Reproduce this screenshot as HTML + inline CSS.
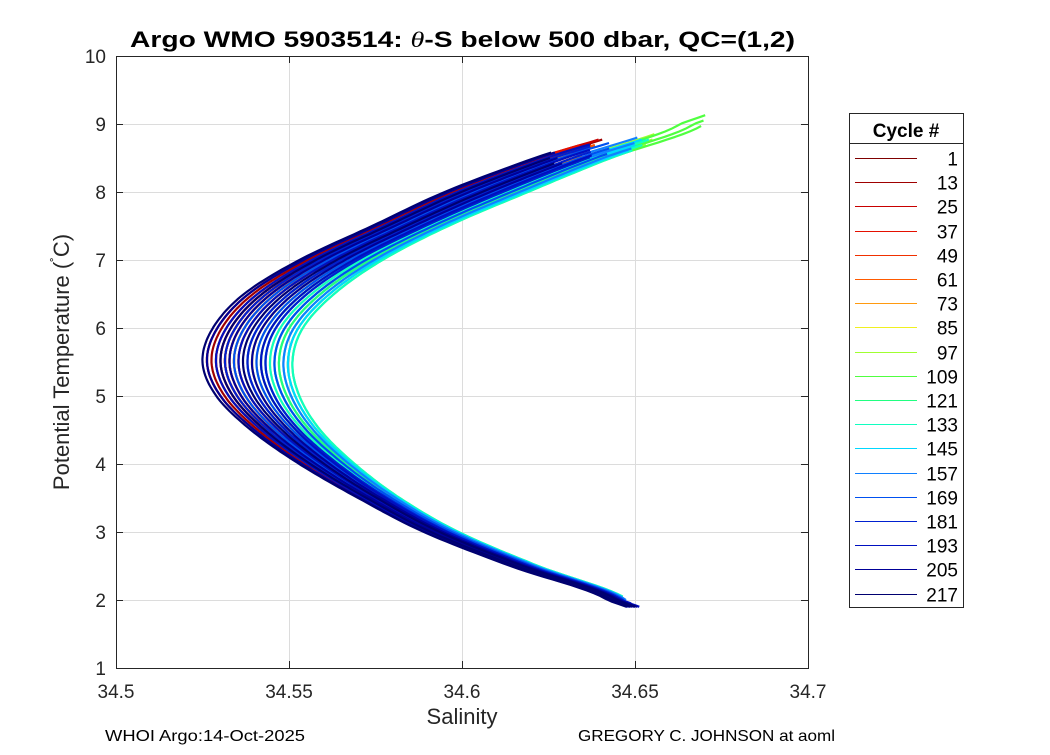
<!DOCTYPE html>
<html><head><meta charset="utf-8">
<style>
html,body{margin:0;padding:0;background:#fff;}
svg text{font-family:"Liberation Sans","DejaVu Sans",sans-serif;}
</style></head>
<body>
<svg id="chart" width="1050" height="750" viewBox="0 0 1050 750" xmlns="http://www.w3.org/2000/svg">
<rect width="1050" height="750" fill="#fff"/>
<text x="130" y="47" font-size="22" font-weight="bold" fill="#000" textLength="665" lengthAdjust="spacingAndGlyphs">Argo WMO 5903514: <tspan font-family="Liberation Serif" font-style="italic" font-weight="normal">θ</tspan>-S below 500 dbar,  QC=(1,2)</text>
<g id="grid"></g>
<g id="lines"></g>
<rect x="116.5" y="56.5" width="692" height="612" fill="none" stroke="#262626" stroke-width="1"/>
<g id="ticks"></g>
<text x="462" y="724" text-anchor="middle" font-size="22" fill="#262626">Salinity</text>
<text transform="translate(69,362) rotate(-90)" text-anchor="middle" font-size="22" fill="#262626">Potential Temperature (<tspan font-size="14" dy="-8">˚</tspan><tspan dy="8">C)</tspan></text>
<g id="legend"></g>
<text x="105" y="741" font-size="16" fill="#000" textLength="200" lengthAdjust="spacingAndGlyphs">WHOI Argo:14-Oct-2025</text>
<text x="578" y="741" font-size="16" fill="#000" textLength="257" lengthAdjust="spacingAndGlyphs">GREGORY C. JOHNSON at aoml</text>
</svg>
<script>
const xTicks=[34.5,34.55,34.6,34.65,34.7];
const xTickLabels=["34.5","34.55","34.6","34.65","34.7"];
const yTicks=[1,2,3,4,5,6,7,8,9,10];
const tempLevels=[2.0,2.5,3.0,3.5,4.0,4.5,5.0,5.5,6.0,6.5,7.0,7.5,8.0,8.5,9.0];
const meanSal=[34.645,34.618,34.594,34.576,34.561,34.549,34.541,34.538,34.541,34.550,34.565,34.585,34.607,34.632,34.660];
const spreadSal=[0.003,0.004,0.005,0.006,0.008,0.010,0.012,0.013,0.013,0.013,0.012,0.011,0.012,0.011,0.010];
const cycles=[1,13,25,37,49,61,73,85,97,109,121,133,145,157,169,181,193,205,217];
const colors=["#7f0000","#9f0000","#c80000","#e51000","#f03000","#ff5a00","#ff9a10","#f0f020","#a0ff30","#50ff40","#20ff80","#10ffc0","#00d8ff","#1080ff","#0050f0","#0020d0","#0010c0","#000098","#000070"];
const groupOffsets=[[-0.6,-0.4,-0.2],[-0.8,-0.5,-0.3],[-0.9,-0.6,-0.4],[-0.9,-0.7,-0.5],[-0.7,-0.5,-0.3],[-0.5,-0.2,0.1],[-0.4,0.0,0.3],[-0.3,0.1,0.5],[0.2,0.6,0.9],[0.3,0.7,1.0],[0.4,0.7,0.9],[0.5,0.8,1.0],[0.3,0.6,0.9],[0.0,0.4,0.8],[-0.3,0.2,0.6],[-0.5,0.0,0.4],[-0.7,-0.2,0.3],[-0.9,-0.4,0.1],[-1.0,-0.6,-0.1]];
const groupTopT=[8.6,8.8,8.8,8.7,8.6,8.7,8.6,8.5,8.85,9.15,8.8,8.8,8.8,8.8,8.75,8.7,8.7,8.6,8.6];
const groupBottomT=[2.05,2.05,2.05,2.05,2.05,2.05,2.05,2.05,2.05,2.05,2.05,2.05,2.05,2.0,2.0,1.95,1.9,1.9,1.9];

const NS="http://www.w3.org/2000/svg";
const X0=116,X1=808,Y0=668,Y1=56;
function xs(s){return X0+(s-34.5)/0.2*(X1-X0);}
function ys(t){return Y0-(t-1)/9*(Y0-Y1);}
function mk(tag,attrs,parent){const e=document.createElementNS(NS,tag);for(const k in attrs)e.setAttribute(k,attrs[k]);parent.appendChild(e);return e;}
function interp(arr,t){
  const n=tempLevels.length-1, h=tempLevels[1]-tempLevels[0];
  if(t<=tempLevels[0]) return arr[0]+(t-tempLevels[0])/h*(arr[1]-arr[0]);
  if(t>=tempLevels[n]) return arr[n]+(t-tempLevels[n])/h*(arr[n]-arr[n-1]);
  let i=Math.min(n-1,Math.floor((t-tempLevels[0])/h));
  const u=(t-tempLevels[i])/h;
  const p0=arr[Math.max(0,i-1)],p1=arr[i],p2=arr[i+1],p3=arr[Math.min(n,i+2)];
  const m1=(p2-p0)/2,m2=(p3-p1)/2;
  const u2=u*u,u3=u2*u;
  return (2*u3-3*u2+1)*p1+(u3-2*u2+u)*m1+(-2*u3+3*u2)*p2+(u3-u2)*m2;
}
const grid=document.getElementById('grid'),ticks=document.getElementById('ticks');
xTicks.forEach((v,i)=>{
  const x=Math.round(xs(v))+0.5;
  if(i>0&&i<xTicks.length-1){const g=mk('line',{x1:x,x2:x,y1:Y1,y2:Y0,stroke:'#dcdcdc','stroke-width':1},grid);
  
  }
  const t=mk('text',{x:xs(v),y:Y0+30,'text-anchor':'middle','font-size':19,fill:'#262626'},ticks);t.textContent=xTickLabels[i];
  
  
  mk('line',{x1:x,x2:x,y1:Y0,y2:Y0-7,stroke:'#262626'},ticks);
  mk('line',{x1:x,x2:x,y1:Y1,y2:Y1+7,stroke:'#262626'},ticks);
});
yTicks.forEach(v=>{
  const y=Math.round(ys(v))+0.5;
  if(v>1&&v<10){const g=mk('line',{x1:X0,x2:X1,y1:y,y2:y,stroke:'#dcdcdc','stroke-width':1},grid);
  
  }
  const t=mk('text',{x:X0-10,y:ys(v)+7,'text-anchor':'end','font-size':19,fill:'#262626'},ticks);t.textContent=String(v);
  
  
  mk('line',{x1:X0,x2:X0+7,y1:y,y2:y,stroke:'#262626'},ticks);
  mk('line',{x1:X1,x2:X1-7,y1:y,y2:y,stroke:'#262626'},ticks);
});
const lines=document.getElementById('lines');
cycles.forEach((c,gi)=>{
  groupOffsets[gi].forEach((o,k)=>{
    const top=groupTopT[gi]-k*0.08, bot=groupBottomT[gi];
    let d='';
    for(let t=bot;t<=top+1e-6;t+=0.04){
      const s=interp(meanSal,t)+o*interp(spreadSal,Math.min(t,9));
      d+=(d?'L':'M')+xs(s).toFixed(1)+','+ys(t).toFixed(1);
    }
    const p=mk('path',{d:d,fill:'none',stroke:colors[gi],'stroke-width':2.2,'stroke-linejoin':'round'},lines);
    
    
  });
});
const lg=document.getElementById('legend');
const box=mk('rect',{x:849.5,y:113.5,width:114,height:494,fill:'#fff',stroke:'#262626'},lg);


mk('line',{x1:849.5,x2:963.5,y1:143.5,y2:143.5,stroke:'#262626'},lg);
const lt=mk('text',{x:906,y:137,'text-anchor':'middle','font-size':19,'font-weight':'bold',fill:'#000'},lg);lt.textContent='Cycle #';


cycles.forEach((c,i)=>{
  const y=Math.round(158+i*24.2)+0.5;
  const e=mk('g',{},lg);
  
  
  mk('line',{x1:855,x2:917,y1:y,y2:y,stroke:colors[i],'stroke-width':1},e);
  const t=mk('text',{x:958,y:y+7,'text-anchor':'end','font-size':19,fill:'#000'},e);t.textContent=String(c);
});
</script>
</body></html>
